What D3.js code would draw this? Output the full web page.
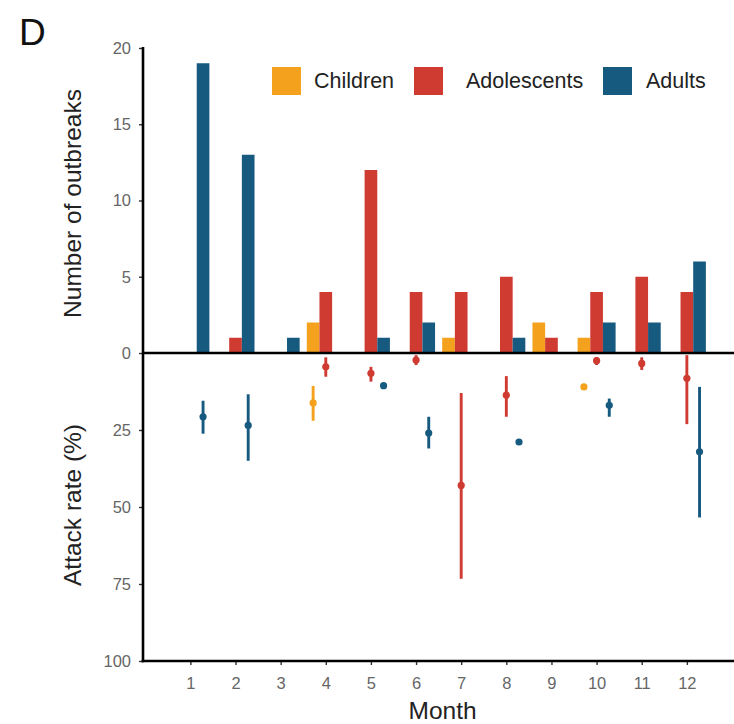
<!DOCTYPE html>
<html>
<head>
<meta charset="utf-8">
<script src="https://cdn.jsdelivr.net/npm/d3@7"></script>
<style>
  html, body { margin: 0; padding: 0; background: #fff; }
  svg { display: block; font-family: "Liberation Sans", Arial, Helvetica, sans-serif; }
</style>
</head>
<body>
<svg id="chart" width="734" height="724"></svg>
<script>
// Outbreaks by month and age group
const months = [1, 2, 3, 4, 5, 6, 7, 8, 9, 10, 11, 12];
const groups = ["Children", "Adolescents", "Adults"];
const groupColors = ["#F4A21D", "#CF3B31", "#175A80"];

// Number of outbreaks per month
const childrenCount    = [0, 0, 0, 2, 0, 0, 1, 0, 2, 1, 0, 0];
const adolescentsCount = [0, 1, 0, 4, 12, 4, 4, 5, 1, 4, 5, 4];
const adultsCount      = [19, 13, 1, 0, 1, 2, 0, 1, 0, 2, 2, 6];

// Attack rate (%): median with low/high range, null where not reported
const childrenRate    = [null, null, null, 16.2, null, null, null, null, null, 11, null, null];
const childrenLow     = [null, null, null, 10.7, null, null, null, null, null, 11, null, null];
const childrenHigh    = [null, null, null, 22, null, null, null, null, null, 11, null, null];
const adolescentsRate = [null, null, null, 4.5, 6.6, 2.3, 43, 13.7, null, 2.5, 3.4, 8.2];
const adolescentsLow  = [null, null, null, 1.4, 4.5, 0.7, 13, 7.5, null, 1.3, 1.4, 0.7];
const adolescentsHigh = [null, null, null, 7.7, 9.3, 3.9, 73.3, 20.7, null, 3.9, 5.5, 23.1];
const adultsRate      = [20.7, 23.5, null, null, 10.6, 26, null, 28.9, null, 17, null, 32.1];
const adultsLow       = [15.5, 13.4, null, null, 10.6, 20.7, null, 28.9, null, 14.8, null, 11];
const adultsHigh      = [26.2, 35, null, null, 10.6, 31, null, 28.9, null, 20.7, null, 53.4];

const countTicks = [0, 5, 10, 15, 20];
const rateTicks = [25, 50, 75, 100];

const counts = [childrenCount, adolescentsCount, adultsCount];
const rates = [
  { mid: childrenRate, lo: childrenLow, hi: childrenHigh },
  { mid: adolescentsRate, lo: adolescentsLow, hi: adolescentsHigh },
  { mid: adultsRate, lo: adultsLow, hi: adultsHigh }
];

const barRows = [];
groups.forEach((g, gi) => months.forEach((m, mi) => {
  barRows.push({ month: m, group: g, gi, value: counts[gi][mi] });
}));
const rateRows = [];
groups.forEach((g, gi) => months.forEach((m, mi) => {
  if (rates[gi].mid[mi] != null) {
    rateRows.push({ month: m, group: g, gi, mid: rates[gi].mid[mi], lo: rates[gi].lo[mi], hi: rates[gi].hi[mi] });
  }
}));

const svg = d3.select("#chart");
const left = 143, right = 734, zeroY = 353, topY = 48, bottomY = 661;

const x = d3.scaleLinear().domain([-0.05, 13]).range([left, 732]);
const dodge = d3.scaleBand().domain(groups).range([-19, 19]);
const yCount = d3.scaleLinear().domain([0, 20]).range([zeroY, topY]);
const yRate = d3.scaleLinear().domain([0, 100]).range([zeroY, bottomY]);
const color = d3.scaleOrdinal().domain(groups).range(groupColors);

// Bars (upper half)
svg.append("g").selectAll("rect").data(barRows.filter(d => d.value > 0)).join("rect")
  .attr("x", d => x(d.month) + dodge(d.group))
  .attr("width", dodge.bandwidth())
  .attr("y", d => yCount(d.value))
  .attr("height", d => yCount(0) - yCount(d.value))
  .attr("fill", d => color(d.group));

// Attack-rate ranges and medians (lower half)
const pr = svg.append("g");
const cx = d => x(d.month) + dodge(d.group) + dodge.bandwidth() / 2;
pr.selectAll("line").data(rateRows.filter(d => d.hi > d.lo)).join("line")
  .attr("x1", cx).attr("x2", cx)
  .attr("y1", d => yRate(d.lo)).attr("y2", d => yRate(d.hi))
  .attr("stroke", d => color(d.group))
  .attr("stroke-width", 2.9);
pr.selectAll("circle").data(rateRows).join("circle")
  .attr("cx", cx).attr("cy", d => yRate(d.mid))
  .attr("r", 3.6)
  .attr("fill", d => color(d.group));

// Axes
const styleAxis = g => {
  g.select(".domain").remove();
  g.selectAll(".tick line").attr("stroke", "#333").attr("stroke-width", 1.4);
  g.selectAll(".tick text").attr("fill", "#666").attr("font-size", 16.5);
};
svg.append("g").attr("transform", `translate(${left},0)`)
  .call(d3.axisLeft(yCount).tickValues(countTicks).tickSize(4).tickPadding(8))
  .call(styleAxis);
svg.append("g").attr("transform", `translate(${left},0)`)
  .call(d3.axisLeft(yRate).tickValues(rateTicks).tickSize(4).tickPadding(8))
  .call(styleAxis);
svg.append("g").attr("transform", `translate(0,${bottomY})`)
  .call(d3.axisBottom(x).tickValues(months).tickFormat(d3.format("d")).tickSize(4).tickPadding(12))
  .call(styleAxis);

// Axis lines and zero line
svg.append("line").attr("x1", left).attr("x2", left).attr("y1", topY - 1).attr("y2", bottomY + 1.2)
  .attr("stroke", "#000").attr("stroke-width", 2.6);
svg.append("line").attr("x1", left - 1.3).attr("x2", right).attr("y1", bottomY).attr("y2", bottomY)
  .attr("stroke", "#000").attr("stroke-width", 2.6);
svg.append("line").attr("x1", left).attr("x2", right).attr("y1", zeroY).attr("y2", zeroY)
  .attr("stroke", "#000").attr("stroke-width", 2.6);

// Axis titles
svg.append("text").attr("transform", `translate(81,${(yCount(0) + yCount(20)) / 2 + 3}) rotate(-90)`)
  .attr("text-anchor", "middle").attr("font-size", 24.5).attr("fill", "#222").text("Number of outbreaks");
svg.append("text").attr("transform", `translate(81,${yRate(50) - 2}) rotate(-90)`)
  .attr("text-anchor", "middle").attr("font-size", 24.5).attr("fill", "#222").text("Attack rate (%)");
svg.append("text").attr("x", x(6.5) + 4).attr("y", 719)
  .attr("text-anchor", "middle").attr("font-size", 24.5).attr("fill", "#222").text("Month");

// Panel letter
svg.append("text").attr("x", 19).attr("y", 45).attr("font-size", 37).attr("fill", "#111").text("D");

// Legend
const legendX = [272, 414, 603];
const labelOffset = [42, 52, 43];
const leg = svg.append("g").selectAll("g").data(groups).join("g")
  .attr("transform", (d, i) => `translate(${legendX[i]},67)`);
leg.append("rect").attr("width", 29).attr("height", 28).attr("fill", d => color(d));
leg.append("text").attr("x", (d, i) => labelOffset[i]).attr("y", 21)
  .attr("font-size", 21.5).attr("fill", "#222").text(d => d);
</script>
</body>
</html>
